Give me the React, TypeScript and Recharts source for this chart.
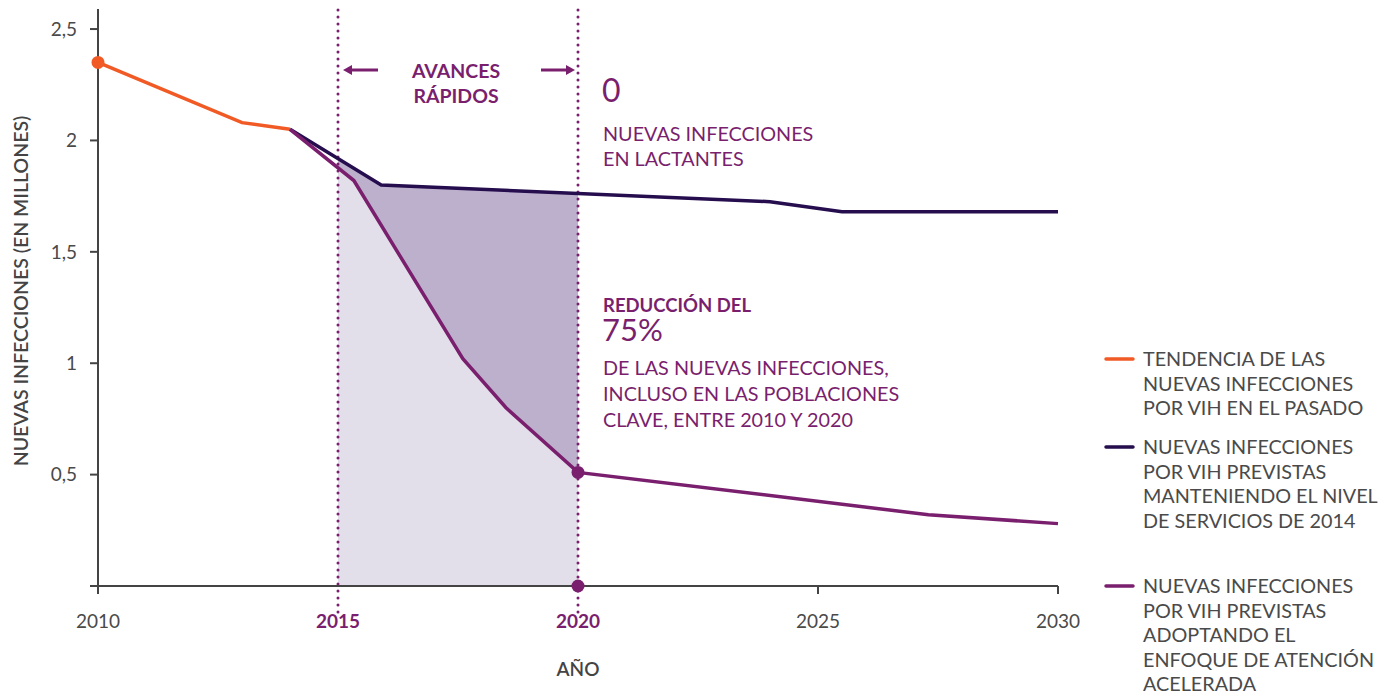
import React from 'react';
import { ComposedChart, Line, Area, XAxis, YAxis, ReferenceLine, ReferenceDot } from 'recharts';

// ---- Data ----
const pastYears = [2010, 2013, 2014];
const pastValues = [2.35, 2.08, 2.05];

const baselineYears = [2014, 2015.9, 2024, 2025.5, 2030];
const baselineValues = [2.05, 1.8, 1.725, 1.68, 1.68];

const fastTrackYears = [2014, 2015.33, 2017.6, 2018.5, 2020, 2027.3, 2030];
const fastTrackValues = [2.05, 1.82, 1.02, 0.8, 0.51, 0.32, 0.28];

// shaded "fast-track" window 2015–2020
const bandYears = [2015, 2015.9, 2020];
const bandTopValues = [1.91, 1.8, 1.765];
const gainYears = [2015, 2015.33, 2017.6, 2018.5, 2020];
const gainValues = [1.87, 1.82, 1.02, 0.8, 0.51];

const xTicks = [2010, 2015, 2020, 2025, 2030];
const yTicks = [0, 0.5, 1, 1.5, 2, 2.5];
const highlightYears = [2015, 2020];
const yMax = 2.59;

const legendItems = [
  { color: '#F15A24', lines: ['TENDENCIA DE LAS', 'NUEVAS INFECCIONES', 'POR VIH EN EL PASADO'], top: 359 },
  { color: '#250D4E', lines: ['NUEVAS INFECCIONES', 'POR VIH PREVISTAS', 'MANTENIENDO EL NIVEL', 'DE SERVICIOS DE 2014'], top: 447 },
  { color: '#7A1F6E', lines: ['NUEVAS INFECCIONES', 'POR VIH PREVISTAS', 'ADOPTANDO EL', 'ENFOQUE DE ATENCIÓN', 'ACELERADA'], top: 586 },
];

const ORANGE = '#F15A24';
const NAVY = '#250D4E';
const PURPLE = '#7A1F6E';
const DARK_FILL = '#BCB0CC';
const LIGHT_FILL = '#E3DFEA';
const AXIS = '#444444';
const TEXT = '#4A4A4A';
const FONT = 'Lato, "Open Sans", sans-serif';

const zip = (xs: number[], ys: number[]) => xs.map((year, i) => ({ year, value: ys[i] }));

const pastData = zip(pastYears, pastValues);
const baselineData = zip(baselineYears, baselineValues);
const fastTrackData = zip(fastTrackYears, fastTrackValues);
const bandData = zip(bandYears, bandTopValues);
const gainData = zip(gainYears, gainValues);

const XTick = (props: any) => {
  const { x, y, payload } = props;
  const hl = highlightYears.includes(payload.value);
  return (
    <g>
      {!hl && <line x1={x} x2={x} y1={y - 8} y2={y} stroke={AXIS} strokeWidth={2} />}
      <text
        x={x}
        y={y + 26}
        textAnchor="middle"
        dominantBaseline="central"
        fontSize={19}
        fontWeight={hl ? 700 : 400}
        fill={hl ? PURPLE : TEXT}
        fontFamily={FONT}
      >
        {payload.value}
      </text>
    </g>
  );
};

const fmtY = (v: number) => (v === 0 ? '' : String(v).replace('.', ','));

export default function App() {
  return (
    <div style={{ position: 'absolute', left: 0, top: 0, width: 1391, height: 695, background: '#fff', fontFamily: FONT }}>
      <ComposedChart width={1391} height={695} margin={{ top: 9, right: 333, bottom: 69, left: 0 }}>
        <XAxis
          type="number"
          dataKey="year"
          domain={[2010, 2030]}
          ticks={xTicks}
          allowDuplicatedCategory={false}
          axisLine={{ stroke: AXIS, strokeWidth: 2 }}
          tickLine={false}
          tickSize={8}
          tickMargin={0}
          height={40}
          tick={<XTick />}
          interval={0}
        />
        <YAxis
          type="number"
          domain={[0, yMax]}
          ticks={yTicks}
          width={98}
          axisLine={{ stroke: AXIS, strokeWidth: 2 }}
          tickLine={{ stroke: AXIS, strokeWidth: 2 }}
          tickSize={8}
          tickMargin={13}
          tickFormatter={fmtY}
          tick={{ fontSize: 19, fill: TEXT, fontFamily: FONT }}
          interval={0}
        />
        <Area
          data={bandData}
          dataKey="value"
          type="linear"
          stroke="none"
          fill={DARK_FILL}
          fillOpacity={1}
          isAnimationActive={false}
        />
        <Area
          data={gainData}
          dataKey="value"
          type="linear"
          stroke="none"
          fill={LIGHT_FILL}
          fillOpacity={1}
          isAnimationActive={false}
        />
        {highlightYears.map((yr) => (
          <ReferenceLine
            key={yr}
            segment={[{ x: yr, y: -0.117 }, { x: yr, y: yMax + 0.005 }]}
            ifOverflow="visible"
            stroke={PURPLE}
            strokeWidth={3}
            strokeDasharray="0 7"
            strokeLinecap="round"
          />
        ))}
        <Line data={pastData} dataKey="value" type="linear" stroke={ORANGE} strokeWidth={3.5} dot={false} isAnimationActive={false} />
        <Line data={baselineData} dataKey="value" type="linear" stroke={NAVY} strokeWidth={3.5} dot={false} isAnimationActive={false} />
        <Line data={fastTrackData} dataKey="value" type="linear" stroke={PURPLE} strokeWidth={3.5} dot={false} isAnimationActive={false} />
        <ReferenceDot x={pastYears[0]} y={pastValues[0]} r={6.5} fill={ORANGE} stroke="none" ifOverflow="visible" />
        <ReferenceDot x={2020} y={0.51} r={6.5} fill={PURPLE} stroke="none" ifOverflow="visible" />
        <ReferenceDot x={2020} y={0} r={6.5} fill={PURPLE} stroke="none" ifOverflow="visible" />
      </ComposedChart>

      <svg width={1391} height={695} style={{ position: 'absolute', left: 0, top: 0, pointerEvents: 'none' }} fontFamily={FONT}>
        {/* Y axis title */}
        <text
          x={20}
          y={291}
          transform="rotate(-90 20 291)"
          textAnchor="middle"
          dominantBaseline="central"
          fontSize={19.5}
          fontWeight={600}
          fill={AXIS}
        >
          NUEVAS INFECCIONES (EN MILLONES)
        </text>
        {/* X axis title */}
        <text x={578} y={668} textAnchor="middle" dominantBaseline="central" fontSize={19} fontWeight={600} fill={AXIS}>
          AÑO
        </text>

        {/* Avances rápidos */}
        <text x={456} y={70} textAnchor="middle" dominantBaseline="central" fontSize={19.5} fontWeight={700} fill={PURPLE}>
          AVANCES
        </text>
        <text x={456} y={95} textAnchor="middle" dominantBaseline="central" fontSize={19.5} fontWeight={700} fill={PURPLE}>
          RÁPIDOS
        </text>
        <line x1={378} x2={350} y1={70} y2={70} stroke={PURPLE} strokeWidth={3} />
        <polygon points="343,70 352,65 352,75" fill={PURPLE} />
        <line x1={541} x2={568} y1={70} y2={70} stroke={PURPLE} strokeWidth={3} />
        <polygon points="575,70 566,65 566,75" fill={PURPLE} />

        {/* 0 new infections in infants */}
        <text x={602} y={102} fontSize={32} fontWeight={400} fill={PURPLE}>0</text>
        <text x={603} y={141} fontSize={19.8} fill={PURPLE}>NUEVAS INFECCIONES</text>
        <text x={603} y={166} fontSize={19.8} fill={PURPLE}>EN LACTANTES</text>

        {/* 75% reduction */}
        <text x={603} y={312} fontSize={18.5} fontWeight={700} fill={PURPLE}>REDUCCIÓN DEL</text>
        <text x={602} y={341} fontSize={31} fontWeight={400} fill={PURPLE}>75%</text>
        <text x={603} y={375} fontSize={19.8} fill={PURPLE}>DE LAS NUEVAS INFECCIONES,</text>
        <text x={603} y={401} fontSize={19.8} fill={PURPLE}>INCLUSO EN LAS POBLACIONES</text>
        <text x={603} y={427} fontSize={19.8} fill={PURPLE}>CLAVE, ENTRE 2010 Y 2020</text>

        {/* Legend */}
        {legendItems.map((item) => (
          <g key={item.top}>
            <line x1={1106} x2={1133} y1={item.top} y2={item.top} stroke={item.color} strokeWidth={3.5} strokeLinecap="round" />
            {item.lines.map((ln, i) => (
              <text key={i} x={1143} y={item.top + 7 + i * 24.6} fontSize={19.8} fill={TEXT}>
                {ln}
              </text>
            ))}
          </g>
        ))}
      </svg>
    </div>
  );
}
